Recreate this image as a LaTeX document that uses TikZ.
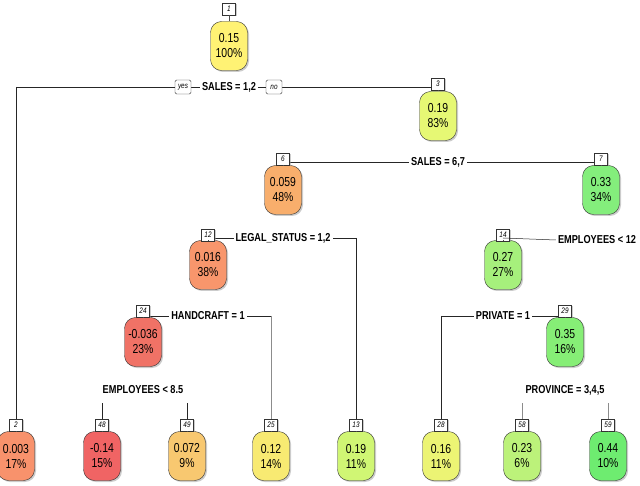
\documentclass[tikz,border=0pt]{standalone}
\usepackage{fontspec}
\setmainfont{Liberation Sans}
\newfontfamily\cond{Liberation Sans}[FakeStretch=0.8]
\usetikzlibrary{shadows}
\begin{document}
\begin{tikzpicture}[x=1pt,y=-1pt,
  leaf/.style={draw=black!80,rounded corners=11pt,minimum width=37pt,minimum height=49pt,align=center,inner sep=1pt,font=\cond\fontsize{13}{15}\selectfont,drop shadow={shadow xshift=1.5pt,shadow yshift=-1.5pt,fill=black!40}},
  num/.style={draw=black!80,fill=white,minimum width=13pt,minimum height=12pt,inner sep=1pt,font=\cond\itshape\fontsize{8}{9}\selectfont,drop shadow={shadow xshift=1pt,shadow yshift=-1pt,fill=black!40}},
  lab/.style={fill=white,inner sep=2pt,font=\cond\bfseries\fontsize{11.5}{13}\selectfont},
  yn/.style={draw=black!80,fill=white,rounded corners=1.5pt,minimum width=16pt,minimum height=14pt,inner sep=1pt,font=\cond\itshape\fontsize{8}{9}\selectfont},
  ln/.style={black!85,line width=0.5pt},
  gl/.style={black!45,line width=0.5pt}]
\useasboundingbox (0,0) rectangle (640,486);
\newcommand{\tn}[8]{%
  \node[leaf,fill=#8] (n#5) at (#2,#4) {#6\\#7};
  \node[num] (k#5) at (#2,#3) {#5};
  \draw[black!70] (k#5.south) -- (n#5.north);}
\definecolor{c1}{HTML}{FFF274}\definecolor{c3}{HTML}{E6F874}
\definecolor{c6}{HTML}{F8AE6C}\definecolor{c7}{HTML}{84EE7C}
\definecolor{c12}{HTML}{F8966C}\definecolor{c14}{HTML}{A6F07C}
\definecolor{c24}{HTML}{F07266}\definecolor{c29}{HTML}{86EE76}
\definecolor{c2}{HTML}{F8926C}\definecolor{c48}{HTML}{F06464}
\definecolor{c49}{HTML}{F8C870}\definecolor{c25}{HTML}{F8EA72}
\definecolor{c13}{HTML}{D0F674}\definecolor{c28}{HTML}{ECF474}
\definecolor{c58}{HTML}{BCF27A}\definecolor{c59}{HTML}{6EEC70}
% splits
\coordinate (s1L) at (16,87); \coordinate (s1R) at (438,87);
\draw[ln] (s1L) -- (s1R);
\coordinate (s3L) at (283,162); \coordinate (s3R) at (601,162);
\draw[ln] (s3L) -- (s3R);
\coordinate (s6L) at (208,238); \coordinate (s6R) at (356,238);
\draw[ln] (s6L) -- (s6R);
\coordinate (s7L) at (503,238);
\coordinate (s12L) at (143,316); \coordinate (s12R) at (271,316);
\draw[ln] (s12L) -- (s12R);
\coordinate (s14L) at (441,316); \coordinate (s14R) at (565,316);
\draw[ln] (s14L) -- (s14R);
\coordinate (s24L) at (102,403); \coordinate (s24R) at (187,403);
\coordinate (s29L) at (522,403); \coordinate (s29R) at (608,403);
% vertical drops
\draw[ln] (s1L) -- (16,419);
\draw[ln] (s1R) -- (438,78);
\draw[ln] (s3L) -- (283,153);
\draw[ln] (s3R) -- (601,153);
\draw[ln] (s6L) -- (208,229);
\draw[ln] (s6R) -- (356,419);
\draw[ln] (s12L) -- (143,305);
\draw[gl] (s12R) -- (271,419);
\draw[ln] (s14L) -- (441,419);
\draw[ln] (s14R) -- (565,305);
\draw[ln] (s24L) -- (102,419);
\draw[ln] (s24R) -- (187,419);
\draw[gl] (s29L) -- (522,419);
\draw[gl] (s29R) -- (608,419);
% nodes
\tn{1}{229}{9}{46}{1}{0.15}{100\%}{c1}
\tn{3}{438}{84}{116}{3}{0.19}{83\%}{c3}
\tn{6}{283}{159}{190}{6}{0.059}{48\%}{c6}
\tn{7}{601}{159}{190}{7}{0.33}{34\%}{c7}
\tn{12}{208}{235}{265}{12}{0.016}{38\%}{c12}
\tn{14}{503}{235}{265}{14}{0.27}{27\%}{c14}
\tn{24}{143}{311}{342}{24}{-0.036}{23\%}{c24}
\tn{29}{565}{311}{342}{29}{0.35}{16\%}{c29}
\tn{2}{16}{425}{456}{2}{0.003}{17\%}{c2}
\tn{48}{102}{425}{456}{48}{-0.14}{15\%}{c48}
\tn{49}{187}{425}{456}{49}{0.072}{9\%}{c49}
\tn{25}{271}{425}{456}{25}{0.12}{14\%}{c25}
\tn{13}{356}{425}{456}{13}{0.19}{11\%}{c13}
\tn{28}{441}{425}{456}{28}{0.16}{11\%}{c28}
\tn{58}{522}{425}{456}{58}{0.23}{6\%}{c58}
\tn{59}{608}{425}{456}{59}{0.44}{10\%}{c59}
% labels
\node[lab] (l1) at (229,87) {SALES = 1,2};
\node[yn] (yes) at (183,87) {yes};
\node[yn] (no) at (274,87) {no};
\node[lab] (l3) at (438,162) {SALES = 6,7};
\node[lab] (l6) at (283,238) {LEGAL\_STATUS = 1,2};
\node[lab] (l7) at (597,240) {EMPLOYEES < 12};
\draw[ln] (s7L) -- (l7.west);
\node[lab] (l12) at (208,316) {HANDCRAFT = 1};
\node[lab] (l14) at (503,316) {PRIVATE = 1};
\node[lab] (l24) at (143,390) {EMPLOYEES < 8.5};
\node[lab] (l29) at (565,390) {PROVINCE = 3,4,5};
\end{tikzpicture}
\end{document}
